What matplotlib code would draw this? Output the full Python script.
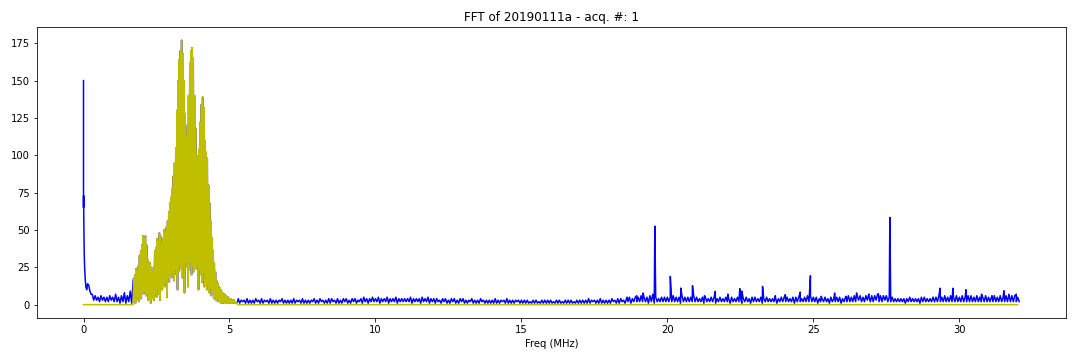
import matplotlib
matplotlib.use('Agg')
import matplotlib.pyplot as plt
import numpy as np

plt.rcParams['path.simplify'] = False

# DC component of the raw spectrum (0 - 0.3 MHz)
blue_dc_freq = [0.0, 0.0, 0.004, 0.008, 0.015, 0.025, 0.04, 0.06, 0.08, 0.11, 0.14, 0.18, 0.22, 0.26]
blue_dc_amp = [150, 65, 73, 62, 48, 34, 24, 17, 12, 10, 14, 13, 9, 7]

# raw spectrum noise below the band: upper every 0.1 MHz from 0.3 to 1.7, lower in between
low_hi = [7, 6, 5, 6, 5, 5, 6, 5, 7, 5, 6, 8, 6, 9, 16]
low_lo = [3, 3, 2, 3, 2, 2, 3, 2, 2, 1, 2, 1, 2, 1]

# raw spectrum noise above the band: upper / lower every 0.1 MHz from 5.3 to 32.0
high_hi = [4, 3, 3, 4, 3, 3, 4,
           3, 4, 3, 3, 4, 3, 3, 3, 4, 3,
           3, 3, 4, 3, 3, 4, 3, 3, 3, 4,
           3, 4, 3, 3, 4, 4, 3, 4, 3, 4,
           4, 3, 4, 4, 3, 4, 5, 4, 4, 5,
           4, 5, 4, 4, 5, 4, 4, 5, 4, 4,
           4, 4, 5, 4, 4, 4, 5, 4, 5, 4,
           4, 4, 3, 4, 4, 3, 4, 4, 3, 4,
           4, 3, 3, 4, 3, 3, 4, 3, 3, 3,
           3, 4, 3, 3, 3, 4, 3, 3, 3, 3,
           3, 3, 3, 2, 3, 3, 2, 3, 3, 3,
           3, 2, 3, 3, 2, 3, 3, 3, 2, 3,
           3, 3, 3, 4, 3, 3, 3, 4, 3, 3,
           3, 4, 3, 4, 4, 3, 4, 5, 4, 5,
           5, 6, 5, 5, 6, 7, 5, 4, 5, 5,
           5, 5, 6, 5, 5, 6, 5, 5, 5, 6,
           5, 4, 5, 5, 4, 5, 5, 4, 5, 4,
           5, 4, 5, 4, 5, 5, 4, 5, 4, 5,
           5, 4, 5, 4, 5, 4, 4, 5, 4, 5,
           5, 5, 4, 5, 5, 5, 4, 5, 6, 6,
           5, 5, 4, 4, 5, 4, 5, 4, 5, 5,
           4, 5, 6, 5, 6, 6, 6, 5, 6, 6,
           6, 6, 7, 6, 6, 6, 5, 5, 4, 4,
           4, 4, 4, 5, 4, 4, 4, 5, 5, 4,
           4, 5, 5, 6, 5, 6, 5, 6, 5, 6,
           5, 6, 5, 6, 6, 5, 6, 5, 5, 6,
           5, 5, 6, 5, 6, 5, 6, 7, 6, 6,
           5]
high_lo = [1, 2, 1, 1, 1, 1, 2,
           1, 1, 2, 1, 1, 1, 1, 2, 1, 1,
           1, 1, 1, 2, 1, 1, 1, 1, 2, 1,
           1, 2, 1, 1, 1, 2, 1, 1, 1, 2,
           1, 1, 2, 1, 2, 1, 2, 1, 2, 2,
           2, 1, 2, 2, 1, 2, 2, 1, 2, 2,
           2, 2, 1, 2, 2, 1, 2, 2, 1, 2,
           1, 2, 1, 2, 1, 1, 2, 1, 1, 2,
           1, 1, 2, 1, 1, 1, 2, 1, 1, 1,
           1, 1, 1, 2, 1, 1, 1, 1, 2, 1,
           1, 1, 1, 1, 1, 1, 1, 1, 1, 1,
           1, 1, 1, 1, 1, 1, 1, 1, 1, 1,
           1, 1, 1, 1, 2, 1, 1, 1, 1, 1,
           1, 2, 1, 1, 2, 1, 2, 1, 2, 2,
           2, 2, 2, 1, 2, 1, 2, 2, 2, 2,
           2, 2, 2, 2, 1, 2, 2, 2, 2, 2,
           2, 2, 1, 2, 2, 2, 1, 2, 2, 2,
           2, 1, 2, 2, 2, 1, 2, 2, 1, 2,
           2, 2, 1, 2, 2, 2, 2, 1, 2, 2,
           2, 2, 2, 1, 2, 2, 2, 2, 2, 2,
           2, 1, 2, 2, 2, 1, 2, 2, 2, 1,
           2, 2, 2, 2, 2, 3, 2, 2, 3, 2,
           2, 3, 2, 2, 3, 2, 2, 2, 2, 2,
           2, 1, 2, 2, 2, 2, 1, 2, 2, 2,
           2, 2, 2, 2, 2, 2, 2, 2, 2, 2,
           2, 2, 2, 2, 2, 2, 2, 2, 2, 2,
           2, 2, 2, 2, 2, 2, 2, 2, 2, 2,
           2]

# narrow peaks in the raw spectrum
spike_freq = [18.62, 18.95, 19.17, 19.57, 20.10, 20.46, 20.86, 21.27, 21.64, 22.07, 22.48, 22.55,
              23.26, 23.70, 24.04, 24.55, 24.90, 25.27, 25.73, 26.12, 26.48, 26.90, 27.23,
              27.62, 29.34, 29.78, 30.23, 30.76, 31.12, 31.53, 31.95]
spike_amp = [5, 6, 7.8, 52.5, 18.9, 11.1, 12.7, 6, 8.9, 7, 10.7, 9,
             12.2, 6, 6.7, 8.4, 19.3, 5.6, 7.8, 5.6, 7.8, 7.1, 7.3,
             58.4, 11, 11, 10, 7, 6, 9.3, 7]

# pass band (same in raw and filtered), upper / lower every 0.04 MHz from 1.72 to 5.24
band_hi = [18, 20, 24, 22, 26, 33, 36, 40, 46, 44, 46, 40, 30, 27, 28, 25, 22, 25, 36, 38,
           44, 42, 48, 46, 40, 44, 50, 48, 52, 56, 62, 68, 72, 78, 86, 95, 105, 130, 150, 164,
           170, 177, 168, 150, 128, 112, 120, 140, 162, 170, 172, 165, 140, 118, 100, 96, 104, 122, 134, 139,
           132, 110, 102, 98, 80, 68, 56, 45, 36, 28, 22, 16, 14, 12, 11, 10, 8, 7, 7, 6,
           5, 5, 4, 4, 3, 3, 3, 2, 2]
band_lo = [2, 1, 3, 5, 2, 6, 4, 8, 7, 9, 6, 8, 3, 5, 1, 4, 6, 3, 8, 5,
           10, 7, 3, 12, 10, 14, 12, 16, 5, 18, 15, 20, 18, 22, 16, 24, 20, 10, 22, 28,
           24, 18, 27, 8, 28, 25, 12, 23, 28, 20, 26, 22, 30, 24, 28, 10, 24, 20, 15, 22,
           12, 18, 10, 14, 8, 12, 6, 8, 4, 6, 3, 4, 2, 3, 1, 2, 1, 2, 1, 1,
           1, 1, 1, 1, 1, 1, 1, 1, 1]

# pass band points
bf = 1.72 + 0.04 * np.arange(len(band_hi))
f_band = np.concatenate([bf, bf + 0.02])
a_band = np.concatenate([band_hi, band_lo])
order = np.argsort(f_band)
f_band, a_band = f_band[order], a_band[order]

# raw spectrum
lf = 0.3 + 0.1 * np.arange(len(low_hi))
hf = 5.3 + 0.1 * np.arange(len(high_hi))
f_raw = np.concatenate([blue_dc_freq, lf, lf[:len(low_lo)] + 0.05, f_band,
                        hf, hf + 0.05, spike_freq])
a_raw = np.concatenate([blue_dc_amp, low_hi, low_lo, a_band,
                        high_hi, high_lo, spike_amp])
order = np.argsort(f_raw, kind='stable')
f_raw, a_raw = f_raw[order], a_raw[order]

# filtered spectrum (zero outside the band)
f_filt = np.concatenate([[0.0, 1.70], f_band, [5.28, 32.0]])
a_filt = np.concatenate([[0, 0], a_band, [0, 0]])

fig, ax = plt.subplots(figsize=(15, 5), dpi=72)
ax.plot(f_raw, a_raw, color='b', lw=1.5)
ax.plot(f_filt, a_filt, color='y', lw=1.5)
ax.set_title('FFT of 20190111a - acq. #: 1', fontsize=12)
ax.set_xlabel('Freq (MHz)')
fig.subplots_adjust(left=0.034, right=0.987, top=0.925, bottom=0.117)
fig.savefig('out.png', dpi=72, facecolor='white')
